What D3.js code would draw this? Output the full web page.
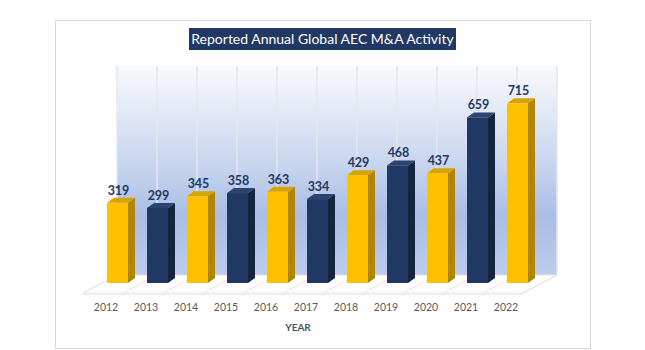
<!DOCTYPE html>
<html>
<head>
<meta charset="utf-8">
<script src="https://cdn.jsdelivr.net/npm/d3@7"></script>
<style>
  html, body { margin: 0; padding: 0; background: #fff; }
  svg { display: block; font-family: Lato, 'Open Sans', sans-serif; }
</style>
</head>
<body>
<div id="chart"></div>
<script>
// data
const years = ['2012', '2013', '2014', '2015', '2016', '2017', '2018', '2019', '2020', '2021', '2022']
const deals = [319, 299, 345, 358, 363, 334, 429, 468, 437, 659, 715]
const barColor = ['gold', 'navy', 'gold', 'navy', 'gold', 'navy', 'gold', 'navy', 'gold', 'navy', 'gold']
const chartTitle = 'Reported Annual Global AEC M&A Activity'
const axisTitle = 'YEAR'

const palette = {
  gold: { front: '#ffc000', side: '#b38600', top: '#d9a300' },
  navy: { front: '#1f3864', side: '#15253f', top: '#2b4472' }
}

const W = 645
const H = 350

const svg = d3.select('#chart').append('svg')
  .attr('width', W)
  .attr('height', H)

// card
svg.append('rect')
  .attr('x', 55.5).attr('y', 20.5)
  .attr('width', 535).attr('height', 328)
  .attr('fill', '#fff')
  .attr('stroke', '#d9d9d9')

// scales
const x = d3.scaleBand().domain(years).range([117, 557]).padding(0)
const y = d3.scaleLinear().domain([0, 800]).range([283, 82])

const wallTop = 66
const wallBottom = 275
const floorD = { dx: -34, dy: 18 } // back edge -> front edge of floor
const depth = { dx: 7, dy: -5 } // bar depth
const barW = 21

// back wall gradient
const defs = svg.append('defs')
const grad = defs.append('linearGradient')
  .attr('id', 'wallGrad')
  .attr('x1', 0).attr('y1', 0).attr('x2', 0).attr('y2', 1)
grad.selectAll('stop')
  .data([
    ['0%', '#f8f9fd'], ['18%', '#e6ecf7'], ['45%', '#cbd7ef'],
    ['72%', '#a9bee4'], ['100%', '#bccdea']
  ])
  .enter().append('stop')
  .attr('offset', d => d[0])
  .attr('stop-color', d => d[1])

svg.append('rect')
  .attr('x', x.range()[0]).attr('y', wallTop)
  .attr('width', x.range()[1] - x.range()[0])
  .attr('height', wallBottom - wallTop)
  .attr('fill', 'url(#wallGrad)')

// wall gridlines at category boundaries
const bounds = years.map(d => x(d)).concat([x.range()[1]])
svg.append('g').selectAll('line')
  .data(bounds)
  .enter().append('line')
  .attr('x1', d => d).attr('x2', d => d)
  .attr('y1', wallTop).attr('y2', wallBottom)
  .attr('stroke', '#e3e7ef')
  .attr('stroke-width', 1.5)

// floor
const x0 = x.range()[0]
const x1 = x.range()[1]
svg.append('path')
  .attr('d', `M${x0},${wallBottom} L${x1},${wallBottom} L${x1 + floorD.dx},${wallBottom + floorD.dy} L${x0 + floorD.dx},${wallBottom + floorD.dy} Z`)
  .attr('fill', '#fff')
  .attr('stroke', '#e4e4e4')
svg.append('g').selectAll('line')
  .data(bounds)
  .enter().append('line')
  .attr('x1', d => d).attr('y1', wallBottom)
  .attr('x2', d => d + floorD.dx).attr('y2', wallBottom + floorD.dy)
  .attr('stroke', '#e4e4e4')
svg.append('line')
  .attr('x1', x0 + floorD.dx).attr('x2', x1 + floorD.dx)
  .attr('y1', wallBottom + floorD.dy + 1.5).attr('y2', wallBottom + floorD.dy + 1.5)
  .attr('stroke', '#ececec')

// bars
const bars = svg.append('g').selectAll('g')
  .data(years.map((d, i) => ({ year: d, value: deals[i], c: palette[barColor[i]] })))
  .enter().append('g')

const fx = d => x(d.year) - 10

bars.append('path') // side
  .attr('d', d => {
    const l = fx(d) + barW
    const t = y(d.value)
    const b = y(0)
    return `M${l},${t} L${l + depth.dx},${t + depth.dy} L${l + depth.dx},${b + depth.dy} L${l},${b} Z`
  })
  .attr('fill', d => d.c.side)

bars.append('path') // top
  .attr('d', d => {
    const l = fx(d)
    const t = y(d.value)
    return `M${l},${t} L${l + barW},${t} L${l + barW + depth.dx},${t + depth.dy} L${l + depth.dx},${t + depth.dy} Z`
  })
  .attr('fill', d => d.c.top)

bars.append('rect') // front
  .attr('x', d => fx(d))
  .attr('y', d => y(d.value))
  .attr('width', barW)
  .attr('height', d => y(0) - y(d.value))
  .attr('fill', d => d.c.front)

// value labels
bars.append('text')
  .attr('x', d => fx(d) + barW / 2 + 1)
  .attr('y', d => y(d.value) - 8)
  .attr('text-anchor', 'middle')
  .attr('font-size', '12.5px')
  .attr('font-weight', 'bold')
  .attr('fill', '#1f3864')
  .text(d => d.value)

// year labels
svg.append('g').selectAll('text')
  .data(years)
  .enter().append('text')
  .attr('x', d => x(d) + x.bandwidth() / 2 - 31)
  .attr('y', 311)
  .attr('text-anchor', 'middle')
  .attr('font-size', '10.5px')
  .attr('fill', '#595959')
  .text(d => d)

svg.append('text')
  .attr('x', 298).attr('y', 331)
  .attr('text-anchor', 'middle')
  .attr('font-size', '10px')
  .attr('font-weight', 'bold')
  .attr('fill', '#44546a')
  .text(axisTitle)

// title box
svg.append('rect')
  .attr('x', 189).attr('y', 28)
  .attr('width', 267).attr('height', 22)
  .attr('fill', '#1f3864')
svg.append('text')
  .attr('x', 322.5).attr('y', 44)
  .attr('text-anchor', 'middle')
  .attr('font-size', '14px')
  .attr('fill', '#fff')
  .text(chartTitle)
</script>
</body>
</html>
